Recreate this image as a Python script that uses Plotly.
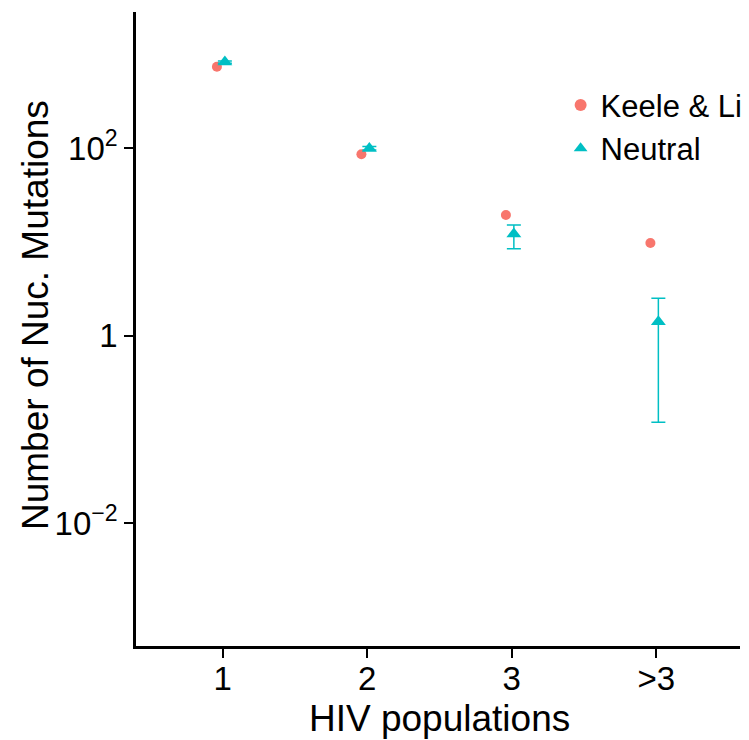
import plotly.graph_objects as go

categories = ["1", "2", "3", ">3"]
keele_li = [736, 86, 19.3, 9.7]
neutral = [826, 99, 12.1, 1.40]
neutral_lo = [800, 95, 8.4, 0.119]
neutral_hi = [850, 104, 15.1, 2.5]

y_ticks = [1e-2, 1, 1e2]
y_ticktext = ["10<sup>\u22122</sup>", "1", "10<sup>2</sup>"]

RED = "#F8766D"
CYAN = "#00BFC4"
FONT = "Liberation Sans, Arial, Helvetica, sans-serif"

idx = list(range(1, len(categories) + 1))

fig = go.Figure()
fig.add_trace(go.Scatter(
    x=[i - 0.04 for i in idx], y=keele_li, mode="markers", name="Keele & Li",
    marker=dict(symbol="circle", size=10, color=RED),
))
fig.add_trace(go.Scatter(
    x=[i + 0.015 for i in idx], y=neutral, mode="markers", name="Neutral",
    marker=dict(symbol="triangle-up", size=13, color=CYAN),
    error_y=dict(type="data", symmetric=False,
                 array=[h - v for h, v in zip(neutral_hi, neutral)],
                 arrayminus=[v - l for l, v in zip(neutral_lo, neutral)],
                 color=CYAN, thickness=1.5, width=7),
))

fig.update_layout(
    width=749, height=740,
    margin=dict(l=136, r=9, t=12, b=94, autoexpand=False),
    paper_bgcolor="white", plot_bgcolor="white",
    font=dict(family=FONT, color="black", size=30),
    legend=dict(x=0.703, y=0.8955, xanchor="left", yanchor="top",
                font=dict(size=31, family=FONT), bgcolor="rgba(0,0,0,0)",
                itemsizing="constant"),
    xaxis=dict(range=[0.4, 4.58], tickvals=idx, ticktext=categories,
               showgrid=False, zeroline=False, showline=True, linecolor="black",
               linewidth=2.5, ticks="outside", ticklen=9, tickwidth=2,
               tickcolor="black", tickfont=dict(size=33), automargin=False,
               ticklabelstandoff=-7),
    yaxis=dict(type="log", range=[-3.312, 3.451], tickvals=y_ticks, ticktext=y_ticktext,
               showgrid=False, zeroline=False, showline=True, linecolor="black",
               linewidth=2.5, ticks="outside", ticklen=9, tickwidth=2,
               tickcolor="black", tickfont=dict(size=33), automargin=False),
    annotations=[
        dict(text="HIV populations", xref="paper", yref="paper",
             x=(439 - 136) / 604, y=-(718 - 646) / 634, xanchor="center", yanchor="middle",
             showarrow=False, font=dict(size=37, family=FONT, color="black")),
        dict(text="Number of Nuc. Mutations", xref="paper", yref="paper",
             x=-(136 - 35) / 604, y=(646 - 315) / 634, xanchor="center", yanchor="middle",
             textangle=-90, showarrow=False, font=dict(size=37, family=FONT, color="black")),
    ],
)

fig.write_html(
    "out.html",
    config={"displayModeBar": False},
    post_script="document.body.style.margin='0';document.body.style.overflow='hidden';"
                "document.documentElement.style.overflow='hidden';",
)
